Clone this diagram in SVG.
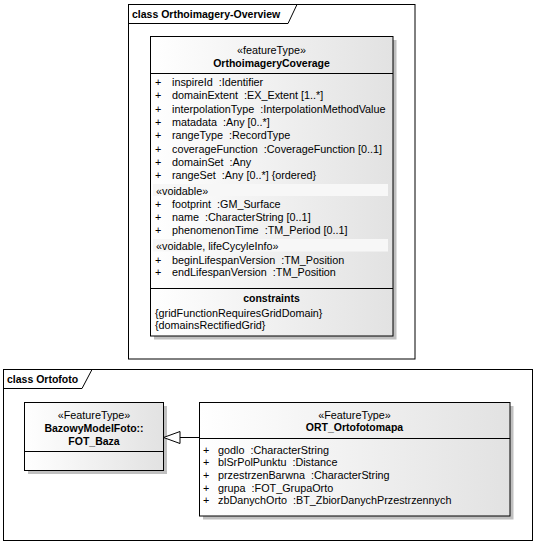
<svg xmlns="http://www.w3.org/2000/svg" width="538" height="545" viewBox="0 0 538 545">
<style>
text{font-family:"Liberation Sans",Arial,sans-serif;font-size:10.8px;fill:#000;white-space:pre}
.b{font-weight:bold;font-size:10.5px}
.c{text-anchor:middle}
.frame{fill:none;stroke:#000;stroke-width:1}
.box{fill:url(#g);stroke:#000;stroke-width:1}
.sh{fill:#c0c0c0}
.ln{stroke:#000;stroke-width:1;fill:none}
.band{fill:#f7f7f7}
</style>
<defs>
<linearGradient id="g" x1="0" y1="0" x2="1" y2="0">
<stop offset="0" stop-color="#ffffff"/>
<stop offset="1" stop-color="#e2e2e2"/>
</linearGradient>
</defs>
<rect width="538" height="545" fill="#fff"/>
<g id="frame-overview">
<rect class="frame" x="128.5" y="4.5" width="286.5" height="354.5"/>
<path class="frame" d="M128.5,23.5 H288 L297,4.5"/>
<text class="b" x="132" y="17.5">class Orthoimagery-Overview</text>
</g>
<g id="frame-ortofoto">
<rect class="frame" x="3.5" y="369.5" width="529" height="171"/>
<path class="frame" d="M3.5,388.5 H82 L92,369.5"/>
<text class="b" x="7" y="382.5">class Ortofoto</text>
</g>
<g id="OrthoimageryCoverage">
<rect class="sh" x="154" y="40" width="242.5" height="299.5"/>
<rect class="box" x="150.5" y="36.5" width="242.5" height="299.5"/>
<line class="ln" x1="150.5" y1="73.5" x2="393" y2="73.5"/>
<line class="ln" x1="150.5" y1="288.5" x2="393" y2="288.5"/>
<rect class="band" x="153" y="184" width="235" height="12"/>
<rect class="band" x="153" y="239" width="235" height="12.5"/>
<text class="c" x="271.5" y="54">«featureType»</text>
<text class="b c" x="271.5" y="66.5">OrthoimageryCoverage</text>
<text x="155" y="86">+</text><text x="172" y="86">inspireId  :Identifier</text>
<text x="155" y="99.3">+</text><text x="172" y="99.3">domainExtent  :EX_Extent [1..*]</text>
<text x="155" y="112.6">+</text><text x="172" y="112.6">interpolationType  :InterpolationMethodValue</text>
<text x="155" y="126">+</text><text x="172" y="126">matadata  :Any [0..*]</text>
<text x="155" y="139.3">+</text><text x="172" y="139.3">rangeType  :RecordType</text>
<text x="155" y="152.6">+</text><text x="172" y="152.6">coverageFunction  :CoverageFunction [0..1]</text>
<text x="155" y="166">+</text><text x="172" y="166">domainSet  :Any</text>
<text x="155" y="179.3">+</text><text x="172" y="179.3">rangeSet  :Any [0..*] {ordered}</text>
<text x="156" y="194.5">«voidable»</text>
<text x="155" y="207.5">+</text><text x="172" y="207.5">footprint  :GM_Surface</text>
<text x="155" y="220.5">+</text><text x="172" y="220.5">name  :CharacterString [0..1]</text>
<text x="155" y="233.5">+</text><text x="172" y="233.5">phenomenonTime  :TM_Period [0..1]</text>
<text x="156" y="249.5">«voidable, lifeCycyleInfo»</text>
<text x="155" y="263.5">+</text><text x="172" y="263.5">beginLifespanVersion  :TM_Position</text>
<text x="155" y="276.3">+</text><text x="172" y="276.3">endLifespanVersion  :TM_Position</text>
<text class="b c" x="271.5" y="302">constraints</text>
<text x="155" y="316.5">{gridFunctionRequiresGridDomain}</text>
<text x="155" y="329">{domainsRectifiedGrid}</text>
</g>
<g id="FOT_Baza">
<rect class="sh" x="28" y="406" width="139" height="68"/>
<rect class="box" x="24.5" y="402.5" width="139" height="68"/>
<line class="ln" x1="24.5" y1="451.5" x2="163.5" y2="451.5"/>
<text class="c" x="94" y="418.5">«FeatureType»</text>
<text class="b c" x="94" y="431.5">BazowyModelFoto::</text>
<text class="b c" x="94" y="444.5">FOT_Baza</text>
</g>
<g id="ORT_Ortofotomapa">
<rect class="sh" x="203" y="406" width="310.5" height="113.5"/>
<rect class="box" x="199.5" y="402.5" width="310.5" height="113.5"/>
<line class="ln" x1="199.5" y1="438.5" x2="510" y2="438.5"/>
<text class="c" x="354.5" y="418.5">«FeatureType»</text>
<text class="b c" x="354.5" y="431">ORT_Ortofotomapa</text>
<text x="203" y="453.5">+</text><text x="218" y="453.5">godlo  :CharacterString</text>
<text x="203" y="466.2">+</text><text x="218" y="466.2">blSrPolPunktu  :Distance</text>
<text x="203" y="478.9">+</text><text x="218" y="478.9">przestrzenBarwna  :CharacterString</text>
<text x="203" y="491.6">+</text><text x="218" y="491.6">grupa  :FOT_GrupaOrto</text>
<text x="203" y="504.3">+</text><text x="218" y="504.3">zbDanychOrto  :BT_ZbiorDanychPrzestrzennych</text>
</g>
<g id="connectors">
<line class="ln" x1="199.5" y1="437.5" x2="180" y2="437.5"/>
<polygon points="163.5,437.5 180,431.5 180,443.5" fill="#fff" stroke="#000" stroke-width="1"/>
</g>
</svg>
